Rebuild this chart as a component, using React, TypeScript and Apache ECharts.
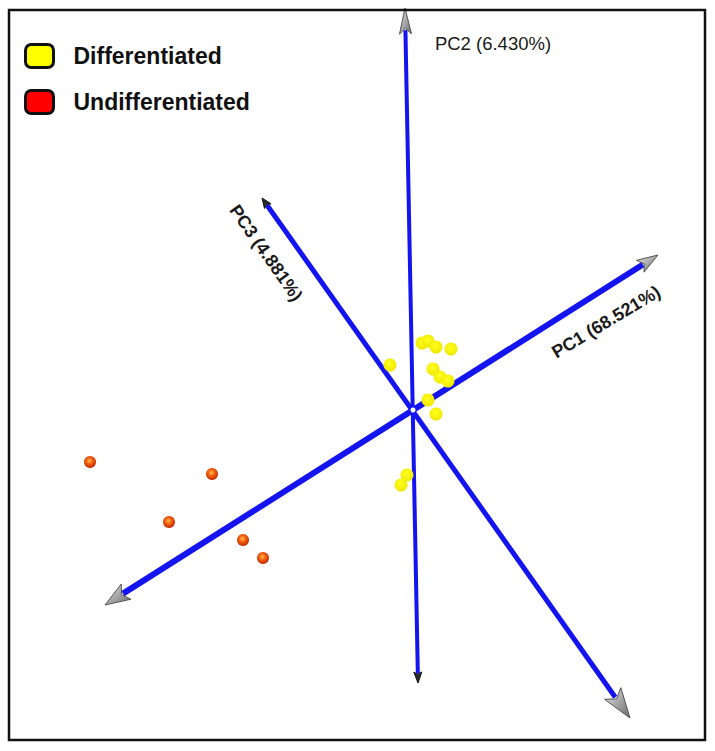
import React, { useEffect, useRef } from "react";
import * as echarts from "echarts";

const FONT = '"Liberation Sans", Arial, Helvetica, sans-serif';

// Projected PCA space (origin at the centre of the 3D axes)
const axisNames = ["PC1 (68.521%)", "PC2 (6.430%)", "PC3 (4.881%)"];
const axisNegEnd = [
  [-308, -195],
  [5, -273],
  [217, -308],
];
const axisPosEnd = [
  [245, 155],
  [-8, 402],
  [-151, 212],
];
const axisLabelAnchor = [
  [193, 88],
  [80, 367],
  [-147, 157],
];
const axisLabelRotate = [31, 0, -55];

const differentiated = [
  [9, 67],
  [15, 69],
  [23, 63],
  [38, 61],
  [-23, 45],
  [20, 41],
  [27, 33],
  [35, 29],
  [15, 10],
  [23, -4],
  [-6, -65],
  [-12, -75],
];
const undifferentiated = [
  [-323, -52],
  [-201, -64],
  [-244, -112],
  [-170, -130],
  [-150, -148],
];

// styles for arrow heads: [negative end, positive end]
const headStyle = [
  [{ len: 25, w: 9, dark: false }, { len: 21, w: 7, dark: false }],
  [{ len: 11, w: 4, dark: true }, { len: 26, w: 6, dark: false }],
  [{ len: 30, w: 10, dark: false }, { len: 10, w: 4, dark: true }],
];
const lineWidths = [6, 4, 5];
const labelStyle = [
  { weight: "bold", size: 18 },
  { weight: "normal", size: 18.5 },
  { weight: "bold", size: 18 },
];

export default function App() {
  const ref = useRef<HTMLDivElement>(null);
  useEffect(() => {
    document.body.style.margin = "0";
    const chart = echarts.init(ref.current!, null, { renderer: "svg" });
    const axisData = axisNegEnd.map((n, i) => [n[0], n[1], axisPosEnd[i][0], axisPosEnd[i][1], i]);

    const renderItem = (params: any, api: any) => {
      const i = params.dataIndex;
      const neg = api.coord([api.value(0), api.value(1)]);
      const pos = api.coord([api.value(2), api.value(3)]);
      const dx = pos[0] - neg[0];
      const dy = pos[1] - neg[1];
      const L = Math.hypot(dx, dy);
      const ux = dx / L;
      const uy = dy / L;
      const nx = -uy;
      const ny = ux;
      const head = (tip: number[], d: number[], spec: any) => {
        const bx = tip[0] - d[0] * spec.len;
        const by = tip[1] - d[1] * spec.len;
        const notch = spec.len * 0.22;
        return {
          type: "polygon",
          shape: {
            points: [
              [tip[0], tip[1]],
              [bx + nx * spec.w, by + ny * spec.w],
              [bx + d[0] * notch, by + d[1] * notch],
              [bx - nx * spec.w, by - ny * spec.w],
            ],
          },
          style: {
            fill: spec.dark
              ? "#2a2a2a"
              : new echarts.graphic.LinearGradient(0, 0, 1, 1, [
                  { offset: 0, color: "#e8e8e8" },
                  { offset: 0.5, color: "#a8a8a8" },
                  { offset: 1, color: "#6a6a6a" },
                ]),
            stroke: spec.dark ? "#111" : "#555",
            lineWidth: 1,
          },
        };
      };
      const hn = headStyle[i][0];
      const hp = headStyle[i][1];
      const lp = api.coord(axisLabelAnchor[i]);
      const children: any[] = [
        {
          type: "line",
          shape: {
            x1: neg[0] + ux * hn.len * 0.85,
            y1: neg[1] + uy * hn.len * 0.85,
            x2: pos[0] - ux * hp.len * 0.85,
            y2: pos[1] - uy * hp.len * 0.85,
          },
          style: { stroke: "#1414f0", lineWidth: lineWidths[i], lineCap: "butt" },
        },
        head(neg, [-ux, -uy], hn),
        head(pos, [ux, uy], hp),
        {
          type: "text",
          x: lp[0],
          y: lp[1],
          rotation: (axisLabelRotate[i] * Math.PI) / 180,
          style: {
            text: axisNames[i],
            fontFamily: FONT,
            fontSize: labelStyle[i].size,
            fontWeight: labelStyle[i].weight,
            fill: "#1a1a1a",
            align: "center",
            verticalAlign: "middle",
          },
        },
      ];
      if (i === axisData.length - 1) {
        const c = api.coord([0, 0]);
        children.push({ type: "circle", shape: { cx: c[0], cy: c[1], r: 2.5 }, style: { fill: "#fff" } });
      }
      return { type: "group", children };
    };

    chart.setOption({
      animation: false,
      grid: { left: 0, right: 0, top: 0, bottom: 0 },
      xAxis: { type: "value", min: -413, max: 302, show: false },
      yAxis: { type: "value", min: -341, max: 410, show: false },
      legend: {
        orient: "vertical",
        left: 24,
        top: 43,
        padding: 0,
        itemWidth: 28,
        itemHeight: 23,
        itemGap: 20,
        textStyle: {
          fontFamily: FONT,
          fontSize: 23,
          fontWeight: "bold",
          color: "#111",
          padding: [0, 0, 0, 15],
        },
        data: [
          { name: "Differentiated", icon: "roundRect", itemStyle: { color: "#ffff00", opacity: 1, borderColor: "#111", borderWidth: 3 } },
          { name: "Undifferentiated", icon: "roundRect", itemStyle: { color: "#ff0000", opacity: 1, borderColor: "#111", borderWidth: 3 } },
        ],
      },
      graphic: [
        {
          type: "rect",
          shape: { x: 9, y: 10, width: 696, height: 730 },
          style: { fill: "none", stroke: "#111", lineWidth: 2.5 },
          z: 100,
        },
      ],
      series: [
        {
          type: "custom",
          name: "axes",
          renderItem,
          clip: false,
          encode: { x: [0, 2], y: [1, 3] },
          data: axisData,
          silent: true,
          z: 1,
        },
        {
          type: "scatter",
          name: "Differentiated",
          data: differentiated,
          symbolSize: 13,
          z: 5,
          itemStyle: {
            opacity: 1,
            color: new echarts.graphic.RadialGradient(0.45, 0.4, 0.6, [
              { offset: 0, color: "#ffff20" },
              { offset: 1, color: "#f0e800" },
            ]),
          },
        },
        {
          type: "scatter",
          name: "Undifferentiated",
          data: undifferentiated,
          symbolSize: 12,
          z: 5,
          itemStyle: {
            opacity: 1,
            color: new echarts.graphic.RadialGradient(0.45, 0.4, 0.6, [
              { offset: 0, color: "#ffc050" },
              { offset: 0.45, color: "#f46010" },
              { offset: 1, color: "#c02800" },
            ]),
          },
        },
      ],
    });
    return () => chart.dispose();
  }, []);
  return <div ref={ref} style={{ width: 715, height: 751 }} />;
}
